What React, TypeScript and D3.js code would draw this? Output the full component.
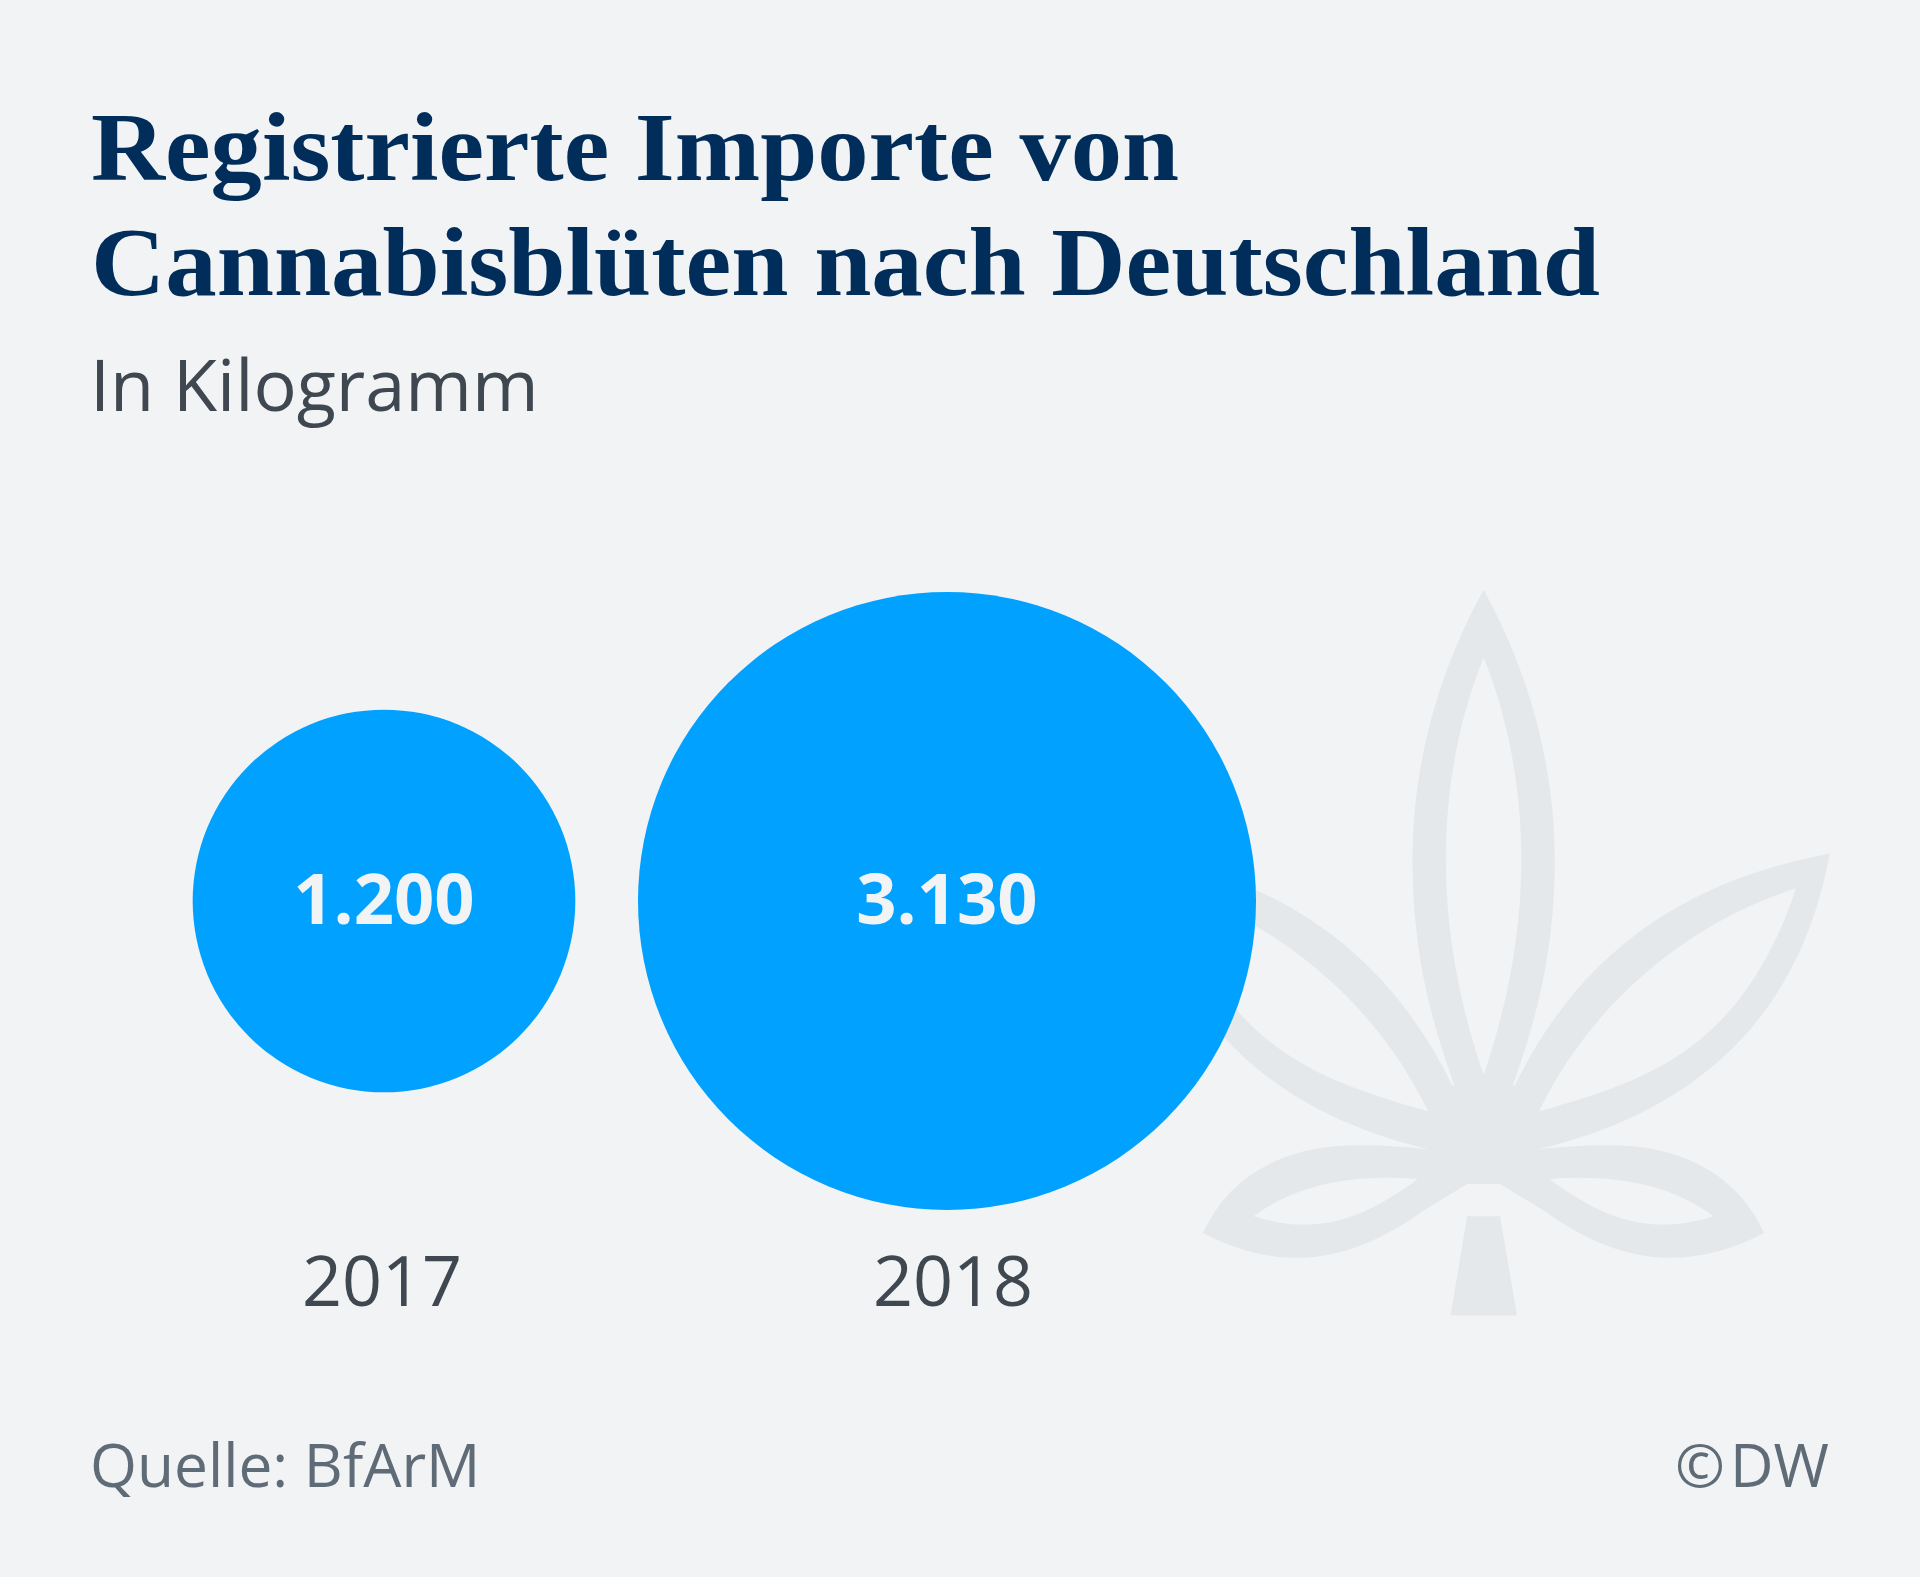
import React from "react";
import * as d3 from "d3";

const years = ["2017", "2018"];
const values = [1200, 3130];
const valueLabels = ["1.200", "3.130"];
const yearOffsets = [-2, 6];
const titleLines = ["Registrierte Importe von", "Cannabisblüten nach Deutschland"];
const subtitle = "In Kilogramm";
const source = "Quelle: BfArM";
const creditMark = "©";
const credit = "DW";

const LEAF =
  "M700 40C800 200 864 390 864 590C864 780 820 920 767 1050L773 1048C910 800 1140 635 1498 578C1440 860 1250 1090 825 1180C900 1172 1000 1168 1060 1175C1180 1188 1290 1240 1347 1350C1150 1440 990 1400 840 1305L738 1250L662 1250L560 1305C410 1400 250 1440 53 1350C110 1240 220 1188 340 1175C400 1168 500 1172 575 1180C150 1090 -40 860 -98 578C260 635 490 800 627 1048L633 1050C580 920 536 780 536 590C536 390 600 200 700 40Z" +
  "M700 178C640 310 613 450 613 590C613 750 650 900 700 1028C750 900 787 750 787 590C787 450 760 310 700 178Z" +
  "M1420 648C1170 720 950 880 828 1102C1000 1060 1120 1020 1220 940C1310 870 1380 760 1420 648Z" +
  "M572 1102C450 880 230 720 -20 648C20 760 90 870 180 940C280 1020 400 1060 572 1102Z" +
  "M852 1240C1000 1230 1130 1250 1230 1316C1090 1355 980 1325 852 1240Z" +
  "M548 1240C400 1230 270 1250 170 1316C310 1355 420 1325 548 1240Z" +
  "M662 1316L738 1316L777 1518L624 1518Z";

const serif = "'Liberation Serif',serif";
const sans = "'Open Sans','Noto Sans',sans-serif";

export default function App() {
  const r = d3.scaleSqrt().domain([0, 3130]).range([0, 309]);
  const x = d3.scaleOrdinal<string, number>().domain(years).range([384, 947]);
  return (
    <svg width={1920} height={1577} style={{ position: "absolute", left: 0, top: 0, display: "block" }}>
      <rect width={1920} height={1577} fill="#f1f3f5" />
      <text x={91} y={180} fontFamily={serif} fontWeight={700} fontSize={98} fill="#002d5a" textLength={1088} lengthAdjust="spacingAndGlyphs">{titleLines[0]}</text>
      <text x={91} y={295} fontFamily={serif} fontWeight={700} fontSize={98} fill="#002d5a" textLength={1509} lengthAdjust="spacingAndGlyphs">{titleLines[1]}</text>
      <text x={90} y={411} fontFamily={sans} fontSize={72} fill="#3f4750">{subtitle}</text>
      <g transform="translate(1180 570) scale(0.4337 0.4911)"><path d={LEAF} fill="#e5e8ea" fillRule="evenodd" /></g>
      {years.map((y, i) => (
        <g key={y}>
          <circle cx={x(y)} cy={901} r={r(values[i])} fill="#00a1ff" />
          <text x={x(y)} y={924} textAnchor="middle" fontFamily={sans} fontWeight={700} fontSize={70.5} fill="#f1f3f5">{valueLabels[i]}</text>
          <text x={x(y) + yearOffsets[i]} y={1306} textAnchor="middle" fontFamily={sans} fontSize={70} fill="#3f4750">{y}</text>
        </g>
      ))}
      <text x={90} y={1487} fontFamily={sans} fontSize={60.4} fill="#5f6b76">{source}</text>
      <text x={1675} y={1487} fontFamily={sans} fontSize={60} fill="#5f6b76">{creditMark}</text>
      <text x={1829} y={1487} textAnchor="end" fontFamily={sans} fontSize={60} fill="#5f6b76">{credit}</text>
    </svg>
  );
}
